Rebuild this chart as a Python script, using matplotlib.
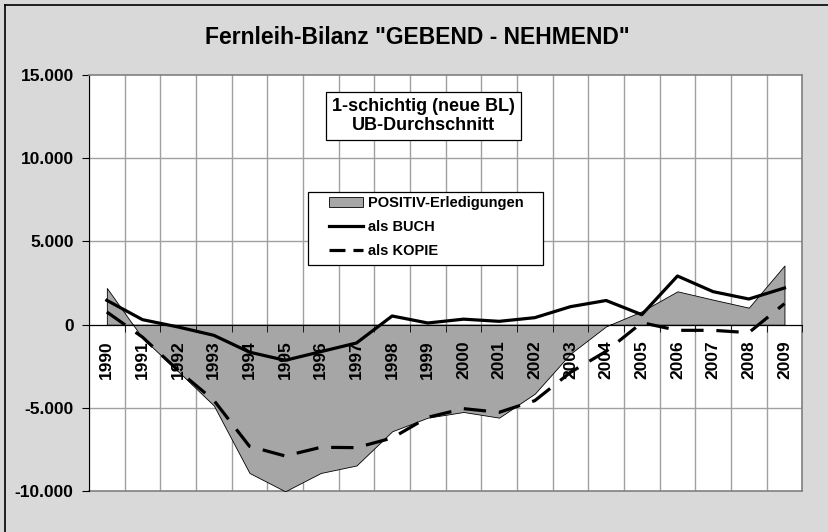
import matplotlib.pyplot as plt
from matplotlib.ticker import FuncFormatter, MultipleLocator
from matplotlib.lines import Line2D
from matplotlib.patches import Patch, Rectangle

plt.rcParams['font.family'] = ['Liberation Sans', 'DejaVu Sans']
plt.rcParams['font.weight'] = 'bold'

jahre = [str(j) for j in range(1990, 2010)]
positiv = [2200, -800, -2800, -4850, -8900, -10000, -8900, -8450, -6400, -5580,
           -5240, -5580, -4140, -1740, -100, 800, 2000, 1500, 1020, 3550]
buch = [1460, 300, -140, -640, -1650, -2140, -1620, -1100, 520, 100,
        330, 200, 420, 1080, 1450, 600, 2920, 1980, 1540, 2200]
kopie = [760, -750, -2750, -4540, -7300, -7880, -7360, -7380, -6800, -5560,
         -5040, -5260, -4560, -2860, -1600, 120, -340, -340, -480, 1260]

W, H = 829, 532
fig = plt.figure(figsize=(W / 100, H / 100), dpi=100)
fig.patch.set_facecolor('#d9d9d9')
# Rahmen (nur links/oben sichtbar)
fig.add_artist(Line2D([5 / W, 5 / W], [0, 1 - 5 / H], color='black', lw=1.2))
fig.add_artist(Line2D([5 / W, 1], [1 - 5 / H, 1 - 5 / H], color='black', lw=1.2))

ax = fig.add_axes([89 / W, 1 - 491.3 / H, (802.3 - 89) / W, (491.3 - 74.7) / H])
ax.set_facecolor('white')
x = list(range(len(jahre)))

# Gitter von Hand, damit die Flaeche es verdeckt
for gy in [-5000, 0, 5000, 10000]:
    ax.axhline(gy, color='#a0a0a0', lw=1, zorder=0.5)
for gx in range(21):
    ax.axvline(gx - 0.5, color='#a0a0a0', lw=1, zorder=0.5)

ax.fill_between(x, positiv, 0, facecolor='#a6a6a6', edgecolor='black', lw=0.6, zorder=2)
ax.plot(x, buch, color='black', lw=2.3, zorder=3, solid_joinstyle='round')
ax.plot(x, kopie, color='black', lw=2.3, dashes=(7, 4), zorder=3)

ax.set_xlim(-0.5, 19.5)
ax.set_ylim(-10000, 15000)
ax.yaxis.set_major_locator(MultipleLocator(5000))
ax.yaxis.set_major_formatter(FuncFormatter(lambda v, p: f"{int(v):,}".replace(",", ".")))
ax.set_xticks(x)
ax.set_xticklabels(jahre)
ax.set_xticks([i - 0.5 for i in range(21)], minor=True)
ax.tick_params(axis='x', which='major', length=0, pad=11, labelrotation=90, labelsize=12.5)
ax.tick_params(axis='x', which='minor', length=5, color='black', direction='out')
ax.tick_params(axis='y', labelsize=12.5, length=5, pad=6)
for lab in ax.get_xticklabels() + ax.get_yticklabels():
    lab.set_fontweight('bold')
ax.xaxis.set_zorder(2.5)

ax.spines['bottom'].set_position(('data', 0))
ax.spines['bottom'].set_zorder(2.6)
ax.spines['left'].set_color('black')
for s in ['top', 'right']:
    ax.spines[s].set_color('#808080')
    ax.spines[s].set_linewidth(1.2)
ax.plot([-0.5, 19.5], [-10000, -10000], color='#808080', lw=1.2, clip_on=False, zorder=1)

fig.text(417 / W, 1 - 37 / H, 'Fernleih-Bilanz "GEBEND - NEHMEND"', ha='center', va='center',
         fontsize=16.5, fontweight='bold')

fig.text(423.5 / W, 1 - 116 / H, '1-schichtig (neue BL)\nUB-Durchschnitt', ha='center', va='center',
         fontsize=13, fontweight='bold', linespacing=1.15,
         bbox=dict(boxstyle='square,pad=0.35', facecolor='white', edgecolor='black', lw=0.9))

# Legendenkasten
fig.add_artist(Rectangle((308 / W, 1 - 265 / H), (543 - 308) / W, (265 - 192) / H,
                         transform=fig.transFigure, facecolor='white', edgecolor='black', lw=0.9))
handles = [Patch(facecolor='#a6a6a6', edgecolor='black', lw=0.6, label='POSITIV-Erledigungen'),
           Line2D([], [], color='black', lw=2.3, label='als BUCH'),
           Line2D([], [], color='black', lw=2.3, dashes=(5, 2.5), label='als KOPIE')]
leg = fig.legend(handles=handles, loc='upper left', bbox_to_anchor=(329 / W, 1 - 196 / H),
                 prop={'weight': 'bold', 'size': 10.5}, frameon=False,
                 borderpad=0, labelspacing=0.68,
                 handlelength=2.35, handletextpad=0.3, borderaxespad=0)

fig.savefig('out.png', dpi=100, facecolor=fig.get_facecolor())
